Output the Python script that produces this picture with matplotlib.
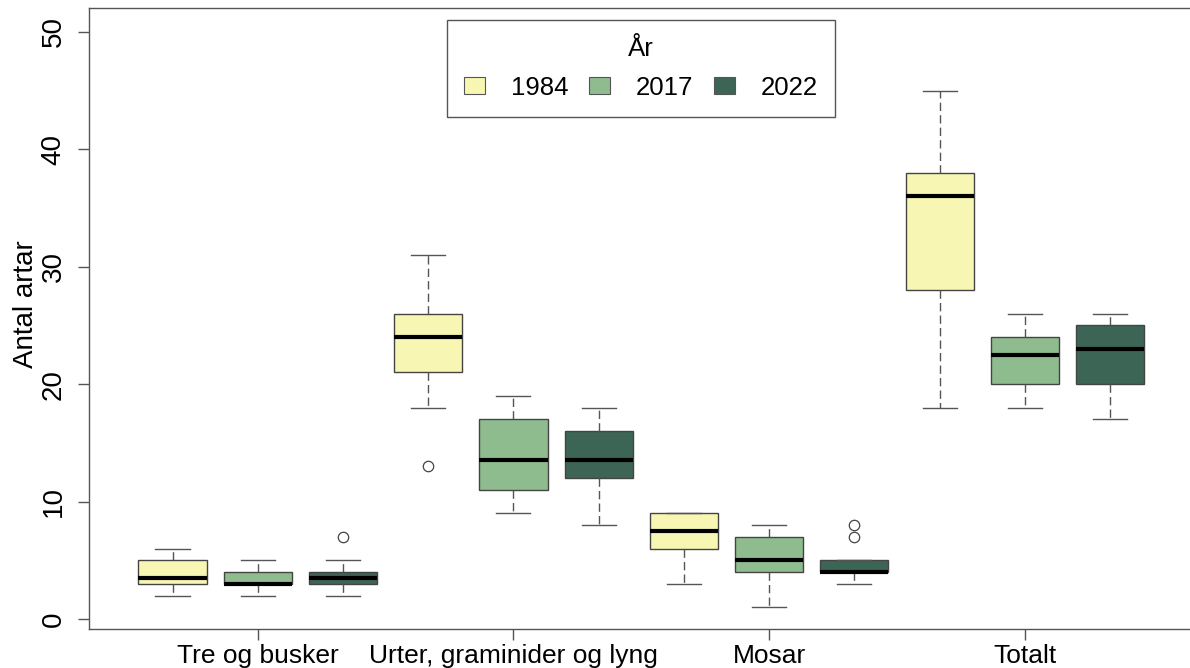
import matplotlib
matplotlib.use("Agg")
import matplotlib.pyplot as plt
from matplotlib.patches import Patch

plt.rcParams['font.family'] = ['Liberation Sans', 'DejaVu Sans']

# Data: boxes ordered group by group, years inside
groups = ["Tre og busker", "Urter, graminider og lyng", "Mosar", "Totalt"]
years = ["1984", "2017", "2022"]
colors = ["#F7F7B3", "#8FBC8F", "#3D6555"]

q1 = [3, 3, 3, 21, 11, 12, 6, 4, 4, 28, 20, 20]
med = [3.5, 3, 3.5, 24, 13.5, 13.5, 7.5, 5, 4, 36, 22.5, 23]
q3 = [5, 4, 4, 26, 17, 16, 9, 7, 5, 38, 24, 25]
whislo = [2, 2, 2, 18, 9, 8, 3, 1, 3, 18, 18, 17]
whishi = [6, 5, 5, 31, 19, 18, 9, 8, 5, 45, 26, 26]
fliers = [[], [], [7], [13], [], [], [], [], [8, 7], [], [], []]

stats = []
for i in range(len(med)):
    stats.append(dict(q1=q1[i], med=med[i], q3=q3[i],
                      whislo=whislo[i], whishi=whishi[i], fliers=fliers[i]))

W, H = 1190, 668
fig = plt.figure(figsize=(W / 100, H / 100), dpi=100)
ax = fig.add_axes([89 / W, 1 - 629 / H, (1193.6 - 89) / W, (629 - 7.7) / H])

positions = list(range(1, len(med) + 1))
bp = ax.bxp(stats, positions=positions, widths=0.8, capwidths=0.4,
            patch_artist=True, manage_ticks=False,
            boxprops=dict(edgecolor="#444444", linewidth=1.0),
            medianprops=dict(color="black", linewidth=3, solid_capstyle="butt"),
            whiskerprops=dict(color="#555555", linewidth=1.0, linestyle=(0, (6, 3))),
            capprops=dict(color="#555555", linewidth=1.0),
            flierprops=dict(marker="o", markersize=7.5, markerfacecolor="none",
                            markeredgecolor="#444444", markeredgewidth=0.9))
for i, box in enumerate(bp["boxes"]):
    box.set_facecolor(colors[i % 3])

ax.set_xlim(0.02, 12.98)
ax.set_ylim(-0.85, 52.05)

ax.set_xticks([2, 5, 8, 11])
ax.set_xticklabels(groups, fontsize=19)
ax.set_yticks(range(0, 51, 10))
ax.set_yticklabels([str(v) for v in range(0, 51, 10)], fontsize=20,
                   rotation=90, va="center")
ax.tick_params(axis="both", direction="out", length=8, width=1, color="#555555")
ax.tick_params(axis="x", pad=3)
ax.tick_params(axis="y", pad=8)
for s in ax.spines.values():
    s.set_color("#555555")
    s.set_linewidth(1.0)
ax.spines["right"].set_visible(False)

ax.set_ylabel("Antal artar", fontsize=20)
ax.yaxis.set_label_coords((39 - 89) / 1104.6, (629 - 304) / 621.3)

handles = [Patch(facecolor=c, edgecolor="#555555", linewidth=0.8) for c in colors]
fig.legend(handles, years, title="År", ncol=3, loc="upper center",
           bbox_to_anchor=(641 / W, 1 - 20 / H), borderaxespad=0,
           fontsize=18.5, title_fontsize=18.5, frameon=True, fancybox=False,
           edgecolor="#555555", framealpha=1, handlelength=0.8,
           handleheight=0.6, handletextpad=1.0, columnspacing=0.83,
           borderpad=0.68, labelspacing=0.55)

fig.savefig("out.png", dpi=100)
